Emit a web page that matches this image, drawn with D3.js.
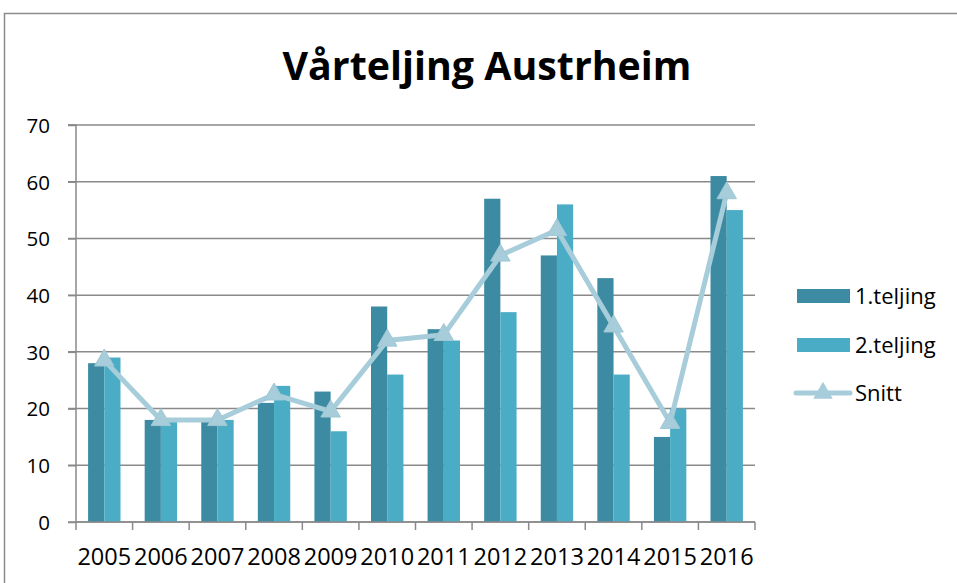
<!DOCTYPE html>
<html><head><meta charset="utf-8">
<script src="https://cdn.jsdelivr.net/npm/d3@7"></script>
<style>body{margin:0;background:#fff}svg{display:block}</style>
</head><body>
<svg id="c" width="957" height="583"></svg>
<script>
const years = ["2005","2006","2007","2008","2009","2010","2011","2012","2013","2014","2015","2016"];
const teljing1 = [28,18,18,21,23,38,34,57,47,43,15,61];
const teljing2 = [29,18,18,24,16,26,32,37,56,26,20,55];
const snitt = [28.5,18,18,22.5,19.5,32,33,47,51.5,34.5,17.5,58];
const seriesNames = ["1.teljing","2.teljing","Snitt"];
const yTicks = [0,10,20,30,40,50,60,70];
const title = "Vårteljing Austrheim";

const svg = d3.select("#c");
const font = "'Open Sans', 'DejaVu Sans', sans-serif";
const c1 = "#3C8BA3", c2 = "#4BACC6", cl = "#A7CDDA";

// outer frame
svg.append("rect").attr("x",4.5).attr("y",13.5).attr("width",1000).attr("height",1000)
  .attr("fill","none").attr("stroke","#8c8c8c").attr("stroke-width",1.5);

const x0 = 76, x1 = 755, yTop = 125, yBot = 522;
const x = d3.scaleBand().domain(years).range([x0,x1]).paddingInner(0).paddingOuter(0);
const y = d3.scaleLinear().domain([0,70]).range([yBot,yTop]);
const inner = d3.scaleBand().domain([0,1]).range([0,32.4]);
const groupOff = (x.bandwidth()-32.4)/2;

// title
const t = svg.append("text").attr("x",487).attr("y",80).attr("text-anchor","middle")
  .attr("font-family",font).attr("font-weight","bold").attr("font-size",38).attr("fill","#000").text(title);
const tw = t.node().getComputedTextLength();
t.attr("font-size", 38*409/tw);

// gridlines
svg.append("g").selectAll("line").data(yTicks).join("line")
  .attr("x1",68).attr("x2",x1).attr("y1",d=>y(d)).attr("y2",d=>y(d))
  .attr("stroke","#8a8a8a").attr("stroke-width",1.5);

// y axis
const ya = svg.append("g").attr("transform",`translate(${x0},0)`)
  .call(d3.axisLeft(y).tickValues(yTicks).tickSize(8).tickPadding(18).tickFormat(d3.format("d")));
ya.select(".domain").attr("stroke","#8a8a8a").attr("stroke-width",1.5).attr("d",`M-8,${yTop}H0V${yBot}`);
ya.selectAll(".tick line").attr("stroke","#8a8a8a").attr("stroke-width",1.5);
ya.selectAll(".tick text").attr("x",-26).attr("font-family",font).attr("font-size",20.5).attr("fill","#000").attr("dy","0.36em");

// bars
const g = svg.append("g");
years.forEach((yr,i)=>{
  [teljing1[i],teljing2[i]].forEach((v,j)=>{
    g.append("rect").attr("x",x(yr)+groupOff+inner(j)).attr("y",y(v))
      .attr("width",inner.bandwidth()).attr("height",y(0)-y(v))
      .attr("fill",j===0?c1:c2);
  });
});

// x axis
const xa = svg.append("g").attr("transform",`translate(0,${yBot})`)
  .call(d3.axisBottom(x).tickSize(0));
xa.select(".domain").attr("stroke","#8a8a8a").attr("stroke-width",1.5).attr("d",`M${x0},0H${x1}`);
xa.selectAll(".tick text").attr("y",43).attr("dy",0).attr("font-family",font).attr("font-size",23.5).attr("fill","#000");
const bounds = years.map(d=>x(d)).concat([x1]);
xa.append("g").selectAll("line").data(bounds).join("line")
  .attr("x1",d=>d).attr("x2",d=>d).attr("y1",0).attr("y2",8)
  .attr("stroke","#8a8a8a").attr("stroke-width",1.5);

// line
const cx = d => x(d)+x.bandwidth()/2;
svg.append("path").datum(snitt.map((v,i)=>[cx(years[i]),y(v)]))
  .attr("d",d3.line()).attr("fill","none").attr("stroke",cl).attr("stroke-width",5).attr("stroke-linejoin","round");
const tri = d3.symbol().type(d3.symbolTriangle).size(165);
svg.append("g").selectAll("path").data(snitt).join("path")
  .attr("transform",(d,i)=>`translate(${cx(years[i])},${y(d)})`)
  .attr("d",tri).attr("fill",cl).attr("stroke","#9fc7d5").attr("stroke-width",1);

// legend
const lg = svg.append("g").attr("font-family",font).attr("font-size",22);
const ly = [296, 345, 393];
lg.append("rect").attr("x",797).attr("y",ly[0]-7).attr("width",53).attr("height",14).attr("fill",c1);
lg.append("rect").attr("x",797).attr("y",ly[1]-7).attr("width",53).attr("height",14).attr("fill",c2);
lg.append("line").attr("x1",796).attr("x2",850).attr("y1",ly[2]).attr("y2",ly[2]).attr("stroke",cl).attr("stroke-width",5).attr("stroke-linecap","round");
lg.append("path").attr("transform",`translate(823,${ly[2]})`).attr("d",tri).attr("fill",cl);
seriesNames.forEach((n,i)=>{
  lg.append("text").attr("x",855).attr("y",ly[i]).attr("dy","0.36em").attr("fill","#000").text(n);
});
</script>
</body></html>
